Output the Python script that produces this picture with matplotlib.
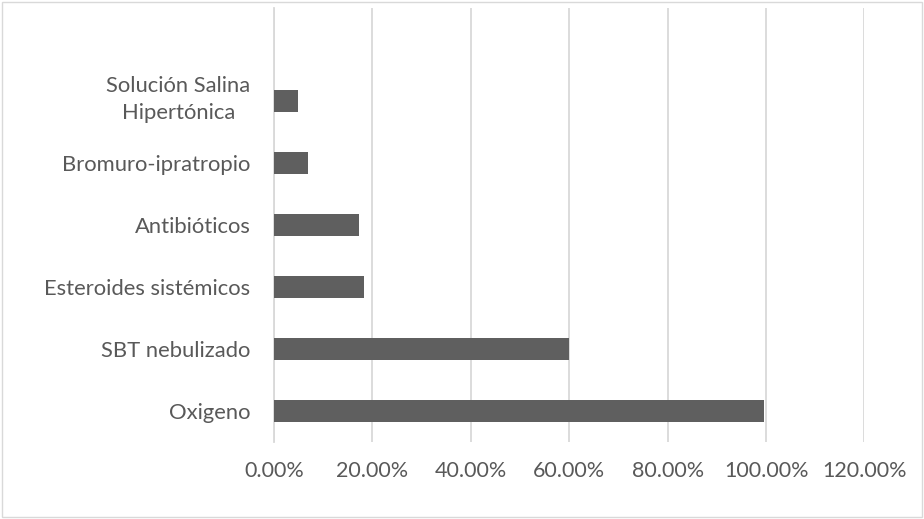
import matplotlib
matplotlib.use("Agg")
import matplotlib.pyplot as plt
from matplotlib.patches import Rectangle
from matplotlib.ticker import PercentFormatter, MultipleLocator
from matplotlib.transforms import ScaledTranslation

categories = [
    "Oxigeno",
    "SBT nebulizado",
    "Esteroides sistémicos",
    "Antibióticos",
    "Bromuro-ipratropio",
    "Solución Salina\nHipertónica",
]
values = [99.6, 60.0, 18.3, 17.2, 6.9, 4.9]

text_color = "#595959"
bar_color = "#5f5f5f"
grid_color = "#d9d9d9"

plt.rcParams["font.family"] = ["Lato", "DejaVu Sans"]

fig = plt.figure(figsize=(9.24, 5.19), dpi=100)
ax = fig.add_axes((0.2965, 0.1484, 0.9356 - 0.2965, 0.9846 - 0.1484))

ax.barh(range(len(categories)), values, height=0.35, color=bar_color,
        zorder=3)

ax.set_xlim(0, 120)
ax.set_ylim(-0.5, 6.5)
ax.xaxis.set_major_locator(MultipleLocator(20))
ax.xaxis.set_major_formatter(PercentFormatter(decimals=2))
ax.set_yticks(range(len(categories)))
ax.set_yticklabels(categories, multialignment="center", linespacing=1.45)

ax.grid(axis="x", color=grid_color, linewidth=1.3, zorder=0)
for side in ["top", "right", "bottom"]:
    ax.spines[side].set_visible(False)
ax.spines["left"].set_color(grid_color)
ax.spines["left"].set_linewidth(1.3)

ax.tick_params(axis="x", length=0, pad=14, labelsize=15.5, labelcolor=text_color)
ax.tick_params(axis="y", length=0, pad=17, labelsize=15.8, labelcolor=text_color)

# two-line label sits a bit higher in the original
lbl = ax.get_yticklabels()[-1]
lbl.set_transform(lbl.get_transform() + ScaledTranslation(0, 0.07, fig.dpi_scale_trans))

# light border round the whole chart
fig.patches.append(Rectangle((0.002, 0.004), 0.996, 0.992, transform=fig.transFigure,
                             fill=False, edgecolor=grid_color, linewidth=1))

fig.savefig("out.png", dpi=100)
